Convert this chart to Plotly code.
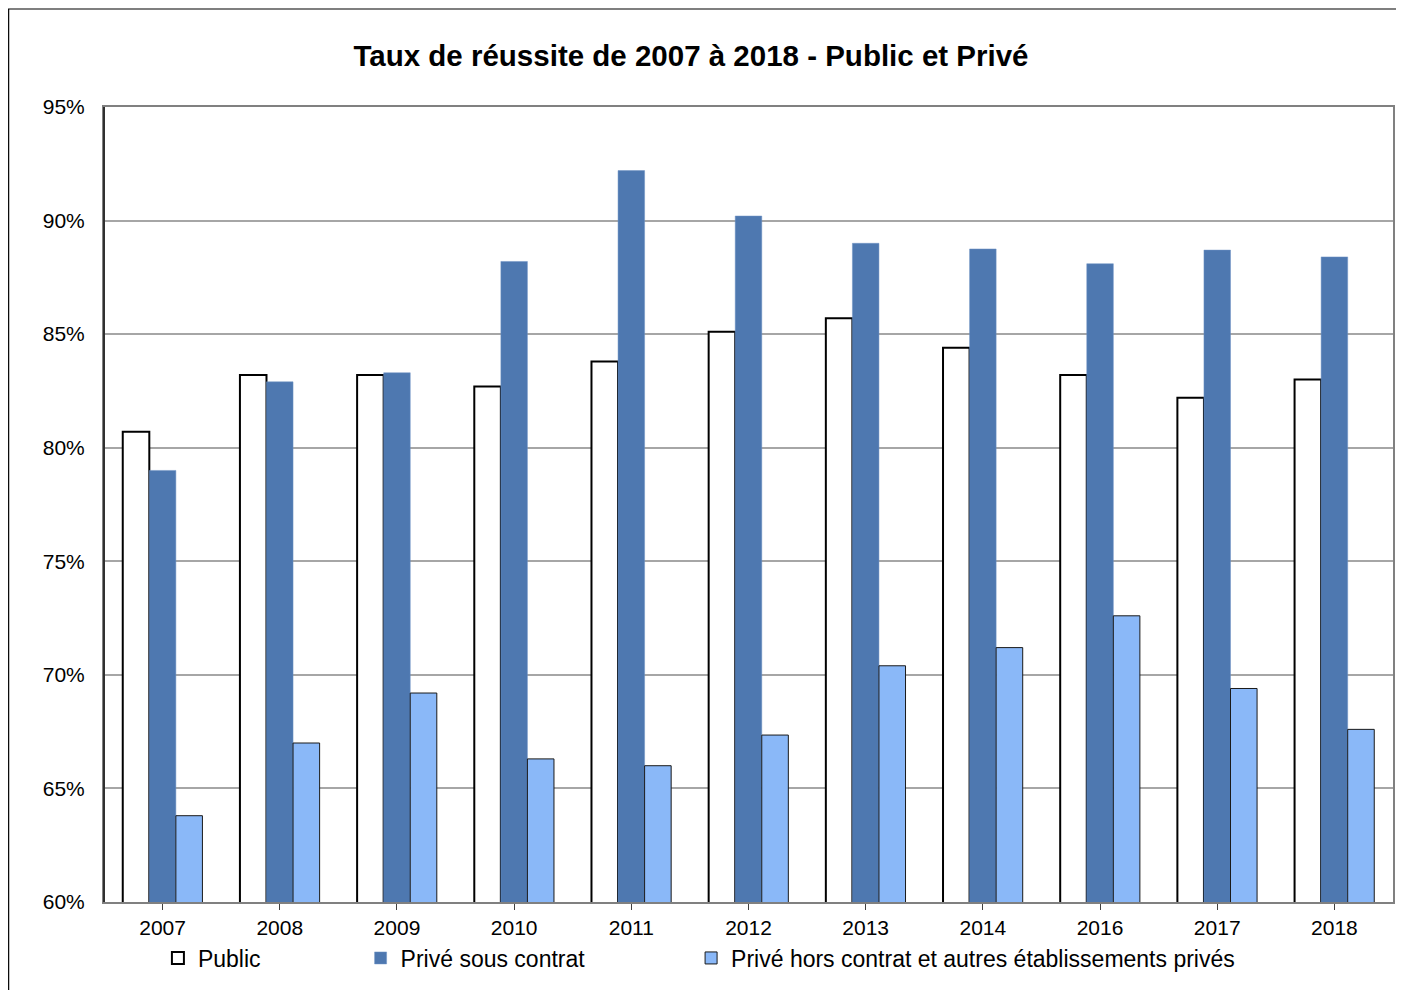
import plotly.graph_objects as go

years = ["2007", "2008", "2009", "2010", "2011", "2012", "2013", "2014", "2016", "2017", "2018"]
public = [80.7, 83.2, 83.2, 82.7, 83.8, 85.1, 85.7, 84.4, 83.2, 82.2, 83.0]
prive_sous_contrat = [79.0, 82.9, 83.3, 88.2, 92.2, 90.2, 89.0, 88.75, 88.1, 88.7, 88.4]
prive_hors_contrat = [63.8, 67.0, 69.2, 66.3, 66.0, 67.35, 70.4, 71.2, 72.6, 69.4, 67.6]
y_ticks = [60, 65, 70, 75, 80, 85, 90, 95]
y_ticktext = [f"{v}%" for v in y_ticks]

FONT = "Liberation Sans, Arial, sans-serif"
OFF = 8  # page body margin
W, H = 1396, 982
ML, MR, MT, MB = 104 - OFF, 9, 107 - OFF, 88
PW = W - ML - MR
PH = H - MT - MB


def px_x(px):
    # px given in page coordinates
    return (px - OFF - ML) / PW


def px_y(py):
    return (H - MB - (py - OFF)) / PH


fig = go.Figure()
fig.add_trace(go.Bar(
    x=years, y=public, name="Public", legend="legend",
    marker=dict(color="white", line=dict(color="black", width=2)),
))
fig.add_trace(go.Bar(
    x=years, y=prive_sous_contrat, name="Privé sous contrat", legend="legend2",
    marker=dict(color="#4E78B0", line=dict(color="#6E92C4", width=0.5)),
))
fig.add_trace(go.Bar(
    x=years, y=prive_hors_contrat, name="Privé hors contrat et autres établissements privés", legend="legend3",
    marker=dict(color="#8AB8F8", line=dict(color="#1a1a1a", width=1)),
))

leg_common = dict(orientation="h", yanchor="middle", xanchor="left",
                  font=dict(family=FONT, size=23, color="black"),
                  bgcolor="rgba(0,0,0,0)", borderwidth=0, itemwidth=30, visible=True)

fig.update_layout(
    width=W, height=H,
    margin=dict(l=ML, r=MR, t=MT, b=MB),
    paper_bgcolor="white", plot_bgcolor="white",
    barmode="group", bargap=0.32, bargroupgap=0,
    showlegend=True,
    font=dict(family=FONT, size=20, color="black"),
    title=dict(text="<b>Taux de réussite de 2007 à 2018 - Public et Privé</b>",
               x=(691 - OFF) / W, xanchor="center", y=1 - (56 - OFF) / H, yanchor="middle",
               font=dict(family=FONT, size=29.5, color="black")),
    legend=dict(x=px_x(158), y=px_y(958), **leg_common),
    legend2=dict(x=px_x(361), y=px_y(958), **leg_common),
    legend3=dict(x=px_x(692), y=px_y(958), **leg_common),
    xaxis=dict(
        showline=True, linecolor="#808080", linewidth=2, mirror=True,
        ticks="outside", ticklen=6, tickcolor="#404040", tickwidth=1,
        tickfont=dict(family=FONT, size=21, color="black"),
        showgrid=False,
    ),
    yaxis=dict(
        range=[60, 95], tickvals=y_ticks, ticktext=y_ticktext,
        showline=True, linecolor="#808080", linewidth=2, mirror=True,
        showgrid=True, gridcolor="#A6A6A6", gridwidth=1.5,
        ticks="", ticklabelstandoff=13,
        tickfont=dict(family=FONT, size=21, color="black"),
        zeroline=False,
    ),
    shapes=[
        dict(type="rect", xref="paper", yref="paper",
             x0=px_x(8.5), x1=px_x(1450), y0=px_y(1050), y1=px_y(9),
             line=dict(color="black", width=1.2), fillcolor="rgba(0,0,0,0)", layer="below"),
        dict(type="line", xref="paper", yref="paper", x0=0, x1=0, y0=0, y1=1,
             line=dict(color="#303030", width=2), layer="above"),
    ],
)

fig.write_html("out.html")
